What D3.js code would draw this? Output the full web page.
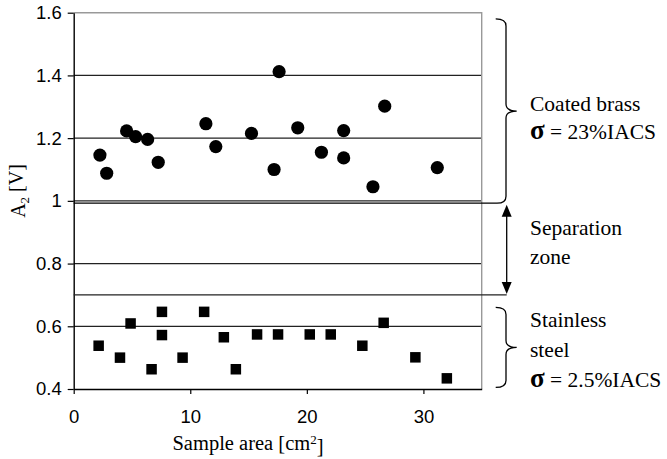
<!DOCTYPE html>
<html>
<head>
<meta charset="utf-8">
<script src="https://cdn.jsdelivr.net/npm/d3@7"></script>
<style>
  body { margin: 0; background: #fff; }
  svg { display: block; }
  .serif { font-family: "Liberation Serif", "Times New Roman", Times, "DejaVu Serif", serif; }
  .sans { font-family: "Liberation Sans", Arial, sans-serif; }
</style>
</head>
<body>
<div id="chart"></div>
<script>
// coated brass samples (circles)
var brassArea = [2.25, 2.83, 4.54, 5.31, 6.34, 7.25, 11.34, 12.19, 15.25, 17.62, 17.19, 19.22, 21.25, 23.16, 23.16, 26.68, 25.67, 31.19];
var brassA2 = [1.146, 1.088, 1.223, 1.205, 1.196, 1.123, 1.246, 1.173, 1.215, 1.412, 1.10, 1.233, 1.155, 1.224, 1.137, 1.302, 1.045, 1.106];

// stainless steel samples (squares)
var steelArea = [2.14, 3.97, 4.88, 6.68, 7.57, 7.57, 9.34, 11.19, 12.88, 13.91, 15.73, 17.53, 20.25, 22.05, 24.76, 26.59, 29.31, 32.01];
var steelA2 = [0.538, 0.50, 0.609, 0.463, 0.646, 0.572, 0.50, 0.646, 0.565, 0.463, 0.574, 0.574, 0.574, 0.574, 0.538, 0.611, 0.501, 0.434];

var xTicks = [0, 10, 20, 30];
var yTicks = [0.4, 0.6, 0.8, 1.0, 1.2, 1.4, 1.6];
var yTickLabels = ["0.4", "0.6", "0.8", "1", "1.2", "1.4", "1.6"];

// zone limits in volts
var brassZone = [1.0, 1.58];
var sepZone = [0.7, 1.0];
var steelZone = [0.405, 0.66];

var W = 667, H = 459;
var margin = { top: 12.7, right: 185.3, bottom: 70, left: 73.7 },
    width = W - margin.left - margin.right,
    height = H - margin.top - margin.bottom;

var svg = d3.select("#chart")
    .append("svg")
    .attr("width", W)
    .attr("height", H)
    .append("g")
    .attr("transform", "translate(" + margin.left + "," + margin.top + ")");

var x = d3.scaleLinear().domain([0, 35]).range([0, width]);
var y = d3.scaleLinear().domain([0.4, 1.6]).range([height, 0]);

// gridlines
svg.selectAll(".grid").data(yTicks.filter(function (d) { return d > 0.4 && d < 1.6; }))
    .enter().append("line")
    .attr("x1", 0).attr("x2", width)
    .attr("y1", d => y(d)).attr("y2", d => y(d))
    .attr("stroke", "#222").attr("stroke-width", 1.3);

// top and right border of plot area
svg.append("path")
    .attr("d", "M0," + y(1.6) + "H" + width + "V" + height)
    .attr("fill", "none").attr("stroke", "#999").attr("stroke-width", 1.4);

// Add Y axis
var yAxis = svg.append("g")
    .call(d3.axisLeft(y).tickValues(yTicks).tickSize(6).tickSizeOuter(0).tickPadding(6)
        .tickFormat(function (d, i) { return yTickLabels[i]; }));

// Add X axis
var xAxis = svg.append("g")
    .attr("transform", "translate(0," + height + ")")
    .call(d3.axisBottom(x).tickValues(xTicks).tickSize(5).tickSizeOuter(0).tickPadding(16));

[xAxis, yAxis].forEach(function (a) {
    a.attr("font-family", null).attr("font-size", null);
    a.select(".domain").attr("stroke", "#000").attr("stroke-width", 1.4);
    a.selectAll(".tick line").attr("stroke", "#000").attr("stroke-width", 1.2);
    a.selectAll(".tick text")
        .attr("fill", "#000")
        .attr("class", "sans")
        .style("font-size", "18.5px");
});

// annotation lines and braces
var xv = width + 24.3, xs = width + 14, xt = width + 35;
var bracePath = function (y0, y1, tailLeft) {
    var p = d3.path(), ym = (y0 + y1) / 2, r = 7;
    p.moveTo(xs, y0);
    p.quadraticCurveTo(xv, y0, xv, y0 + r);
    p.lineTo(xv, ym - r);
    p.quadraticCurveTo(xv, ym, xt, ym);
    p.quadraticCurveTo(xv, ym, xv, ym + r);
    p.lineTo(xv, y1 - r);
    if (tailLeft) {
        p.quadraticCurveTo(xv, y1, xv - r - 2, y1);
        p.lineTo(0, y1);
    } else {
        p.quadraticCurveTo(xv, y1, xs, y1);
    }
    return p.toString();
};

svg.append("path")
    .attr("d", bracePath(y(brassZone[1]), y(brassZone[0]) + 2.3, true))
    .attr("fill", "none").attr("stroke", "#000").attr("stroke-width", 1.3);

svg.append("path")
    .attr("d", bracePath(y(steelZone[1]), y(steelZone[0]), false))
    .attr("fill", "none").attr("stroke", "#000").attr("stroke-width", 1.3);

// separation zone line and arrow
var xa = width + 25;
svg.append("line")
    .attr("x1", 0).attr("x2", xa)
    .attr("y1", y(sepZone[0])).attr("y2", y(sepZone[0]))
    .attr("stroke", "#222").attr("stroke-width", 1.3);

var yTop = y(sepZone[1]) + 4, yBot = y(sepZone[0]) - 1;
svg.append("line")
    .attr("x1", xa).attr("x2", xa)
    .attr("y1", yTop + 10).attr("y2", yBot - 10)
    .attr("stroke", "#000").attr("stroke-width", 1.3);

svg.append("path")
    .attr("d", "M" + xa + "," + yTop + "l-5,12h10z");
svg.append("path")
    .attr("d", "M" + xa + "," + yBot + "l-5,-12h10z");

// Add the points
svg.selectAll(".brass").data(brassArea)
    .enter().append("circle")
    .attr("cx", d => x(d))
    .attr("cy", (d, i) => y(brassA2[i]))
    .attr("r", 6.6)
    .attr("fill", "#000");

var s = 10.5;
svg.selectAll(".steel").data(steelArea)
    .enter().append("rect")
    .attr("x", d => x(d) - s / 2)
    .attr("y", (d, i) => y(steelA2[i]) - s / 2)
    .attr("width", s).attr("height", s)
    .attr("fill", "#000");

// zone labels
var tx = width + 48.3;
function label(lines, y0, step) {
    lines.forEach(function (t, i) {
        var txt = svg.append("text")
            .attr("class", "serif")
            .attr("x", tx)
            .attr("y", y0 + i * step)
            .style("font-size", "21.5px");
        if (t.charAt(0) === "σ") {
            txt.append("tspan").style("font-size", "27px").style("font-weight", "bold").text("σ");
            txt.append("tspan").text(t.slice(1));
        } else {
            txt.text(t);
        }
    });
}
label(["Coated brass", "σ = 23%IACS"], 98, 28);
label(["Separation", "zone"], 222.3, 29.3);
label(["Stainless", "steel", "σ = 2.5%IACS"], 314, 30);

// axis titles
var ylab = svg.append("text")
    .attr("class", "serif")
    .attr("transform", "translate(" + (-49) + "," + (191 - margin.top) + ") rotate(-90)")
    .attr("text-anchor", "middle")
    .style("font-size", "20px");
ylab.append("tspan").text("A");
ylab.append("tspan").attr("dy", "0.3em").style("font-size", "13px").text("2");
ylab.append("tspan").attr("dy", "-0.3em").text(" [V]");

var xlab = svg.append("text")
    .attr("class", "serif")
    .attr("x", 248 - margin.left)
    .attr("y", 450 - margin.top)
    .attr("text-anchor", "middle")
    .style("font-size", "20.5px");
xlab.append("tspan").text("Sample area [cm");
xlab.append("tspan").attr("dy", "-0.45em").style("font-size", "13px").text("2");
xlab.append("tspan").attr("dy", "0.45em").text("]");
</script>
</body>
</html>
